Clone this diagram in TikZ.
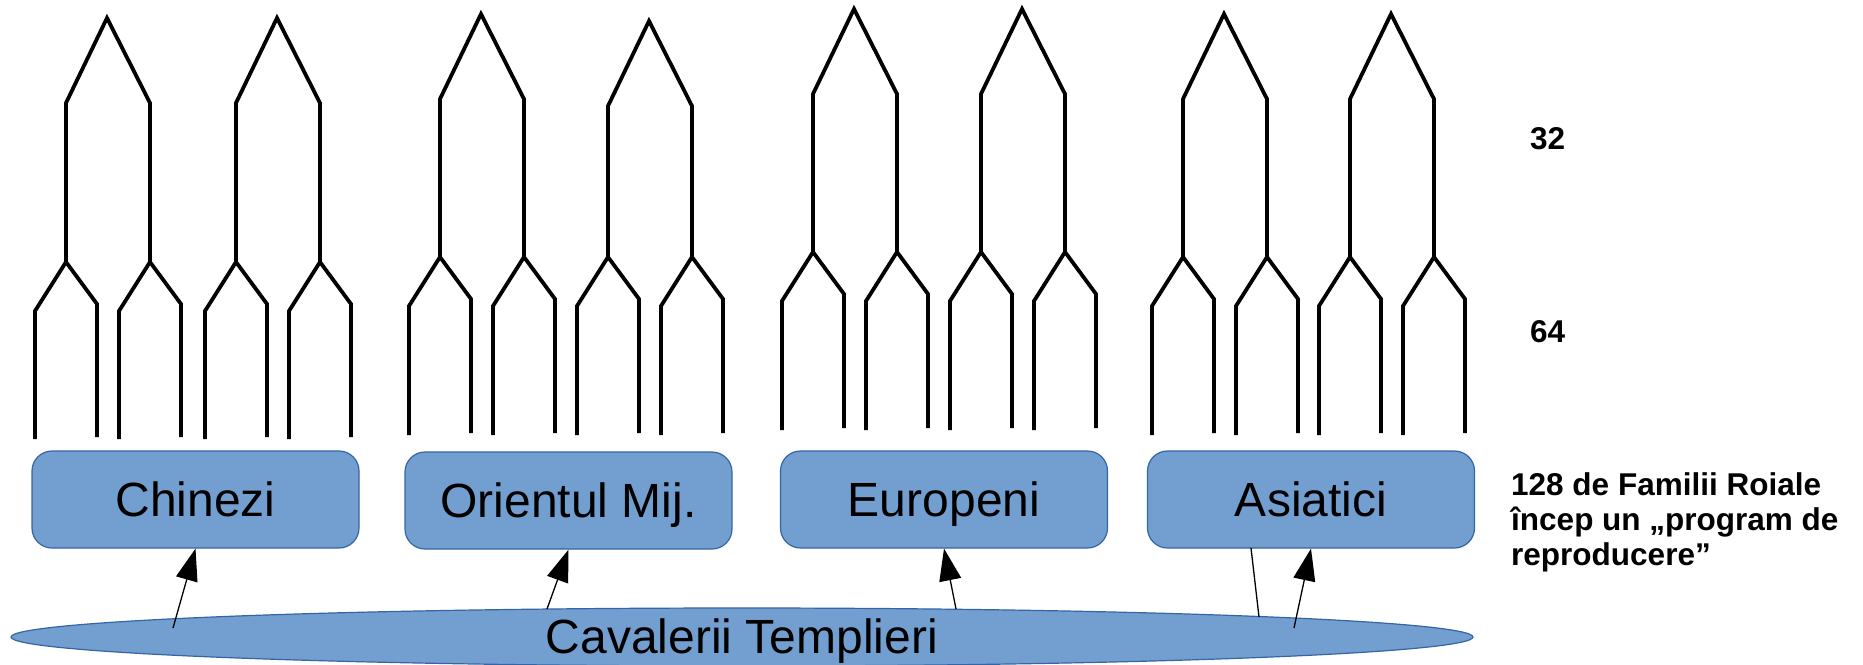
\documentclass[tikz,border=0pt]{standalone}
\usepackage{fontspec}
\setmainfont{Liberation Sans}
\usetikzlibrary{shapes.geometric,arrows.meta}
\definecolor{boxfill}{HTML}{729FCF}
\definecolor{boxline}{HTML}{3465A4}
\tikzset{
  treeline/.style={line width=3.8pt, black, line join=miter},
  famtbox/.style={rectangle, rounded corners=20pt, fill=boxfill, draw=boxline, line width=1.2pt,
    minimum width=327pt, minimum height=97pt, inner sep=0pt,
    font=\fontsize{48}{55}\selectfont, text height=34pt, text depth=1pt},
  templbox/.style={ellipse, fill=boxfill, draw=boxline, line width=1.2pt,
    minimum width=1462pt, minimum height=58pt, inner sep=0pt},
  bigtext/.style={font=\fontsize{48}{55}\selectfont, inner sep=0pt},
  sidetext/.style={font=\fontsize{31.5}{35}\selectfont\bfseries, inner sep=0pt, align=left},
  conn/.style={line width=1.3pt, -{Triangle[length=32pt,width=22pt]}},
  plainconn/.style={line width=1.3pt}
}
% apex x, apex y, fork y, bottom y
\newcommand\famtree[4]{%
  \draw[treeline] ({#1-41},#3) -- ({#1-41},{#2+85}) -- (#1,#2) -- ({#1+43},{#2+85}) -- ({#1+43},#3);
  \draw[treeline] ({#1-72},#4) -- ({#1-72},{#3+49}) -- ({#1-41},#3) -- ({#1-10},{#3+42}) -- ({#1-10},{#4-2});
  \draw[treeline] ({#1+12},#4) -- ({#1+12},{#3+49}) -- ({#1+43},#3) -- ({#1+74},{#3+42}) -- ({#1+74},{#4-2});
}
\begin{document}
\begin{tikzpicture}[x=1pt,y=-1pt]
\useasboundingbox (0,0) rectangle (1863,664);
% family trees
\famtree{107}{18}{262}{439}
\famtree{277}{18}{262}{439}
\famtree{481}{14}{257}{435}
\famtree{649}{21}{257}{435}
\famtree{854}{9}{252}{430}
\famtree{1022}{9}{252}{430}
\famtree{1224}{14}{257}{435}
\famtree{1391}{14}{257}{435}
% generation labels
\node[sidetext, anchor=base west] (n32) at (1530,149) {32};
\node[sidetext, anchor=base west] (n64) at (1530,342) {64};
\node[sidetext, anchor=base west] (n128) at (1511,565) {128 de Familii Roiale\\încep un „program de\\reproducere”};
% boxes
\node[famtbox] (chin) at (195.5,499.5) {Chinezi};
\node[famtbox] (orient) at (568.5,500.5) {Orientul Mij.};
\node[famtbox] (europ) at (944,499.5) {Europeni};
\node[famtbox] (asia) at (1311,499.5) {Asiatici};
% ellipse
\node[templbox] (templ) at (742,637) {};
\node[bigtext, anchor=base] (templtext) at (742,653) {Cavalerii Templieri};
% connectors
\coordinate (tc) at (173,628);
\coordinate (to) at (547,609);
\coordinate (te) at (956,609);
\coordinate (ta) at (1294,628);
\coordinate (ps) at (1251,548);
\coordinate (pe) at (1259,617);
\draw[conn] (tc) -- (chin.south);
\draw[conn] (to) -- (orient.south);
\draw[conn] (te) -- (europ.south);
\draw[conn] (ta) -- (asia.south);
\draw[plainconn] (ps) -- (pe);
\end{tikzpicture}
\end{document}
